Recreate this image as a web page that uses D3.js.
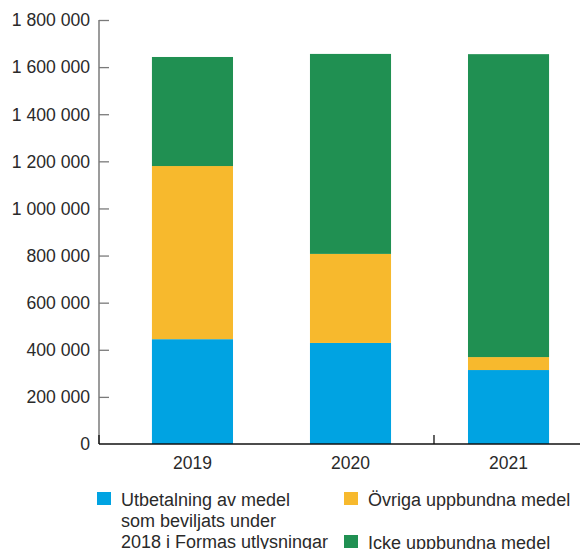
<!DOCTYPE html>
<html>
<head>
<meta charset="utf-8">
<script src="https://cdn.jsdelivr.net/npm/d3@7"></script>
<style>
  html, body { margin: 0; padding: 0; background: #fff; }
  svg { display: block; }
  text { font-family: "Liberation Sans", Arial, Helvetica, sans-serif; fill: #2a2a2a; }
</style>
</head>
<body>
<svg id="chart" width="580" height="549"></svg>
<script>
// ---- Data ----
const years = ["2019", "2020", "2021"];
const utbetalning = [445000, 429000, 314000];
const ovrigaUppbundna = [735000, 378000, 55000];
const ickeUppbundna = [463000, 849000, 1286000];
const yTicks = [0, 200000, 400000, 600000, 800000, 1000000, 1200000, 1400000, 1600000, 1800000];
const seriesNames = ["Utbetalning av medel som beviljats under 2018 i Formas utlysningar", "Övriga uppbundna medel", "Icke uppbundna medel"];
const seriesKeys = ["utb", "ovr", "icke"];
const seriesColors = ["#00a3e2", "#f7b92d", "#209052"];

// ---- Build table ----
const table = years.map((y, i) => ({ year: y, utb: utbetalning[i], ovr: ovrigaUppbundna[i], icke: ickeUppbundna[i] }));
const stacked = d3.stack().keys(seriesKeys)(table);

const svg = d3.select("#chart");
const x = d3.scaleBand().domain(years).range([99, 602]).paddingInner(0.487).paddingOuter(0.335);
const y = d3.scaleLinear().domain([0, 1800000]).range([444, 20]);
const color = d3.scaleOrdinal().domain(seriesKeys).range(seriesColors);

const fmt = v => d3.format(",")(v).replace(/,/g, "\u00a0");

// Bars
svg.append("g").selectAll("g").data(stacked).join("g")
  .attr("fill", d => color(d.key))
  .selectAll("rect").data(d => d).join("rect")
  .attr("x", d => x(d.data.year))
  .attr("width", x.bandwidth())
  .attr("y", d => y(d[1]))
  .attr("height", d => y(d[0]) - y(d[1]));

// Y axis
const yAxis = svg.append("g").attr("transform", "translate(99,0)")
  .call(d3.axisRight(y).tickValues(yTicks).tickSize(10).tickFormat(""));
yAxis.select(".domain").attr("stroke", "#7a7a7a").attr("stroke-width", 1.5).attr("d", `M0,${y(1800000)}V${y(0)}`);
yAxis.selectAll(".tick line").attr("stroke", "#7a7a7a").attr("stroke-width", 1.3);
yAxis.selectAll(".tick").filter(d => d === 0).remove();

svg.append("g").selectAll("text").data(yTicks).join("text")
  .attr("x", 90)
  .attr("y", d => y(d))
  .attr("dy", "0.36em")
  .attr("text-anchor", "end")
  .attr("font-size", 17.6)
  .text(d => fmt(d));

// X axis baseline
svg.append("line")
  .attr("x1", 99).attr("x2", 580)
  .attr("y1", y(0)).attr("y2", y(0))
  .attr("stroke", "#111").attr("stroke-width", 1.3);
// small black ticks
const xTickPos = [99, x("2021") - 34];
svg.append("g").selectAll("line").data(xTickPos).join("line")
  .attr("x1", d => d).attr("x2", d => d)
  .attr("y1", y(0) - 9).attr("y2", y(0))
  .attr("stroke", "#111").attr("stroke-width", 1.3);

// Category labels
svg.append("g").selectAll("text").data(years).join("text")
  .attr("x", d => x(d) + x.bandwidth() / 2)
  .attr("y", 469)
  .attr("text-anchor", "middle")
  .attr("font-size", 17.5)
  .text(d => d);

// Legend
const legendItems = [
  { key: "utb", lines: ["Utbetalning av medel", "som beviljats under", "2018 i Formas utlysningar"], x: 97, y: 492 },
  { key: "ovr", lines: ["Övriga uppbundna medel"], x: 344, y: 492 },
  { key: "icke", lines: ["Icke uppbundna medel"], x: 344, y: 535 }
];
const lg = svg.append("g").selectAll("g").data(legendItems).join("g")
  .attr("transform", d => `translate(${d.x},${d.y})`);
lg.append("rect").attr("width", 14).attr("height", 13).attr("fill", d => color(d.key));
lg.each(function(d) {
  const t = d3.select(this).append("text").attr("x", 24).attr("y", 14).attr("font-size", 18);
  d.lines.forEach((ln, i) => t.append("tspan").attr("x", 24).attr("dy", i === 0 ? 0 : 21).text(ln));
});
</script>
</body>
</html>
